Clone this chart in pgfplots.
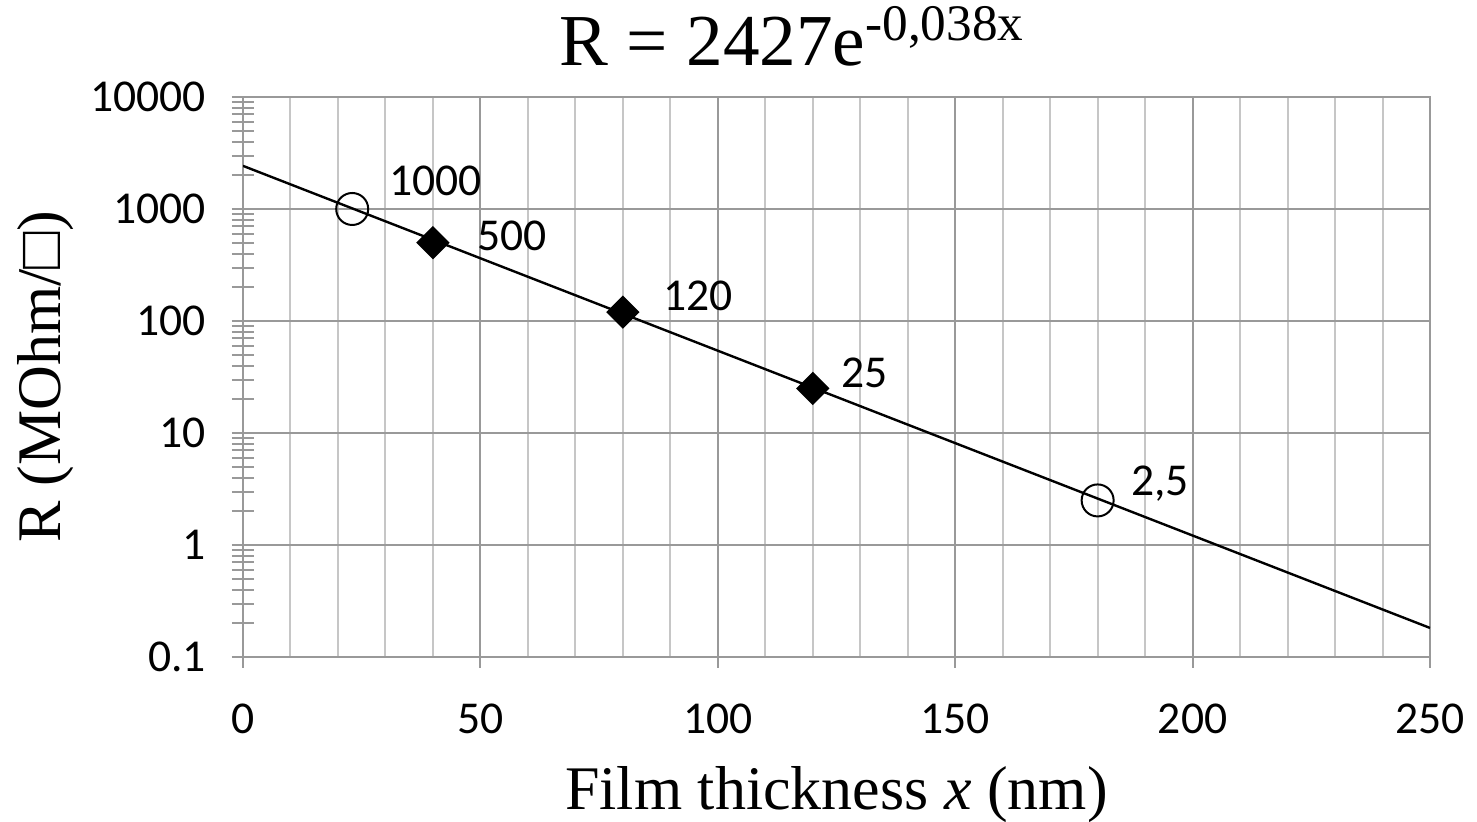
\documentclass[border=0pt]{standalone}
\usepackage{pgfplots}
\pgfplotsset{compat=1.18}
\usepackage{fontspec}
\setmainfont{Carlito}
\newfontfamily\tnr{Liberation Serif}

\begin{document}
\begin{tikzpicture}
\begin{axis}[
  scale only axis, width=296.75pt, height=140pt,
  xmin=0, xmax=250,
  ymode=log, ymin=0.1, ymax=10000,
  xtick={0,50,...,250}, minor x tick num=4,
  ytick={0.1,1,10,100,1000,10000},
  log ticks with fixed point,
  /pgf/number format/1000 sep={},
  /pgf/number format/assume math mode=true,
  ticklabel style={font=\fontsize{11.4}{13}\selectfont},
  yticklabel style={xshift=-3pt},
  xticklabel style={yshift=-5.5pt},
  xmajorgrids, xminorgrids, ymajorgrids,
  major grid style={draw=gray!80, line width=0.5pt},
  minor grid style={draw=gray!45, line width=0.5pt},
  tick align=center, tick pos=left,
  major tick length=5.5pt, minor tick length=5.5pt,
  tick style={draw=gray!80, line width=0.5pt},
  minor x tick style={draw=none},
  axis line style={draw=gray!80, line width=0.5pt},
  title={\tnr\fontsize{18.3}{22}\selectfont R = 2427e\textsuperscript{-0,038x}},
  title style={at={(axis description cs:0.463,1)}, anchor=base, yshift=1.75pt},
  xlabel={\tnr\fontsize{15.5}{19}\selectfont Film thickness \textit{x} (nm)},
  xlabel style={at={(axis description cs:0.5,0)}, anchor=base, yshift=-38.25pt},
  ylabel={\tnr\fontsize{15.5}{19}\selectfont R (MOhm/□)},
  ylabel style={at={(axis description cs:0,0.5)}, anchor=center, yshift=49.25pt},
]
\addplot[black, line width=0.6pt, no marks] coordinates {(0,2427) (250,0.1817)};
\addplot[only marks, mark=o, mark size=4pt, mark options={line width=0.5pt}] coordinates {(23,1000) (180,2.5)};
\addplot[only marks, mark=square*, mark size=2.75pt, mark options={rotate=45}] coordinates {(40,500) (80,120) (120,25)};
\begin{scope}[every node/.style={anchor=west, inner sep=0pt, font=\fontsize{11.4}{13}\selectfont}]
\node[xshift=9pt, yshift=7pt] at (axis cs:23,1000) {1000};
\node[xshift=11pt, yshift=1.75pt] at (axis cs:40,500) {500};
\node[xshift=10pt, yshift=4pt] at (axis cs:80,120) {120};
\node[xshift=7pt, yshift=4pt] at (axis cs:120,25) {25};
\node[xshift=8.25pt, yshift=4.25pt] at (axis cs:180,2.5) {2,5};
\end{scope}
\end{axis}
\pgfresetboundingbox
\path ([shift={(-60.75pt,-41.25pt)}]current axis.south west) rectangle ([shift={(11.75pt,24.25pt)}]current axis.north east);
\end{tikzpicture}
\end{document}
